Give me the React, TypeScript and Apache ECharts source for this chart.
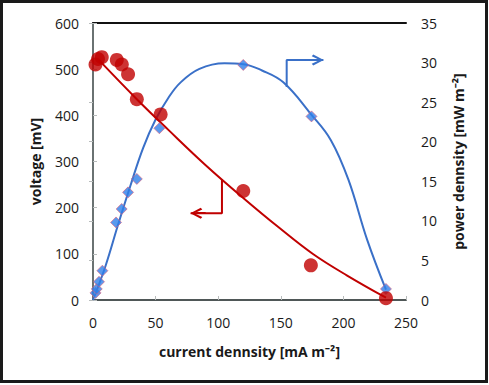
import React, { useEffect, useRef } from "react";
import * as echarts from "echarts";

// measured voltage (current density mA m^-2, voltage mV)
const voltagePoints: [number, number][] = [
  [2, 510], [4, 522], [7, 526], [19, 520], [23, 510], [28, 489],
  [35, 435], [54, 402], [120, 236], [174, 75], [234, 4],
];
// measured power density (current density, mW m^-2)
const powerPoints: [number, number][] = [
  [2, 0.9], [3, 1.4], [4.8, 2.3], [7.5, 3.7], [18.4, 9.8], [22.9, 11.5],
  [28, 13.6], [35, 15.3], [53, 21.7], [120, 29.7], [174.5, 23.2], [234, 1.4],
];
// trend lines
const voltageTrend: [number, number][] = [
  [5, 519], [35, 435], [60, 369], [90, 292], [120, 221], [148, 158], [176, 99], [203, 53], [234, 5],
];
const powerTrend: [number, number][] = [
  [0, 0], [10, 4.3], [20, 9.5], [30, 14.5], [40, 19.2], [50, 22.8], [60, 25.5],
  [70, 27.5], [85, 29.2], [105, 29.9], [120, 29.8], [135, 29], [152, 27.5],
  [174, 23.5], [190, 20.2], [204, 15.2], [219, 7.6], [234, 1.3],
];
// annotation arrows (data coordinates)
const voltageArrow: [number, number][] = [[103, 262], [103, 188], [78, 188]];
const powerArrow: [number, number][] = [[154.7, 26.9], [154.7, 30.33], [184, 30.33]];

const xTicks = { min: 0, max: 250, interval: 50 };
const yLeft = { min: 0, max: 600, interval: 100 };
const yRight = { min: 0, max: 35, interval: 5 };

const RED = "#c00000";
const BLUE = "#3a70c8";
const CHEVRON = "path://M5,0L10,8.2L8.4,9.4L5,3.2L1.6,9.4L0,8.2Z";
const FONT = "Open Sans";

export default function App() {
  const ref = useRef<HTMLDivElement>(null);
  useEffect(() => {
    document.body.style.margin = "0";
    const chart = echarts.init(ref.current!, null, { renderer: "svg" });
    const axisLabel = { color: "#1a1a1a", fontFamily: FONT, fontSize: 14 };
    const nameStyle = { color: "#1a1a1a", fontFamily: FONT, fontSize: 14, fontWeight: "bold" as const };
    const tick = { show: true, inside: true, length: 4, lineStyle: { color: "#b8bcbc", width: 1 } };
    chart.setOption({
      animation: false,
      backgroundColor: "#ffffff",
      graphic: [
        {
          type: "rect",
          shape: { x: 1.5, y: 1.5, width: 485, height: 380 },
          style: { fill: "none", stroke: "#1a1a1a", lineWidth: 3 },
          silent: true,
        },
      ],
      grid: { left: 93, right: 83, top: 23, bottom: 85, containLabel: false },
      xAxis: [
        {
          type: "value",
          ...xTicks,
          position: "bottom",
          name: "current dennsity [mA m⁻²]",
          nameLocation: "middle",
          nameGap: 44,
          nameTextStyle: nameStyle,
          axisLine: { show: true, lineStyle: { color: "#4f5757", width: 2 } },
          axisTick: tick,
          axisLabel: { ...axisLabel, margin: 15 },
          splitLine: { show: false },
        },
        {
          type: "value",
          ...xTicks,
          position: "top",
          axisLine: { show: true, onZero: false, lineStyle: { color: "#111111", width: 2 } },
          axisTick: { show: false },
          axisLabel: { show: false },
          splitLine: { show: false },
        },
      ],
      yAxis: [
        {
          type: "value",
          ...yLeft,
          position: "left",
          name: "voltage [mV]",
          nameLocation: "middle",
          nameGap: 51,
          nameRotate: 90,
          nameTextStyle: nameStyle,
          axisLine: { show: true, lineStyle: { color: "#4f5757", width: 2 } },
          axisTick: tick,
          axisLabel: { ...axisLabel, margin: 14 },
          splitLine: { show: false },
        },
        {
          type: "value",
          ...yRight,
          position: "right",
          name: "power dennsity [mW m⁻²]",
          nameLocation: "middle",
          nameGap: 45,
          nameRotate: 90,
          nameTextStyle: nameStyle,
          axisLine: { show: true, lineStyle: { color: "#6a7272", width: 2 } },
          axisTick: tick,
          axisLabel: { ...axisLabel, margin: 15 },
          splitLine: { show: false },
        },
      ],
      series: [
        {
          type: "line",
          xAxisIndex: 0,
          yAxisIndex: 1,
          data: powerTrend,
          smooth: 0.4,
          showSymbol: false,
          lineStyle: { color: BLUE, width: 2 },
          silent: true,
          z: 2,
        },
        {
          type: "line",
          xAxisIndex: 0,
          yAxisIndex: 0,
          data: voltageTrend,
          smooth: 0.4,
          showSymbol: false,
          lineStyle: { color: RED, width: 2 },
          silent: true,
          z: 2,
        },
        {
          type: "line",
          xAxisIndex: 0,
          yAxisIndex: 0,
          data: voltageArrow,
          showSymbol: false,
          lineStyle: { color: RED, width: 2 },
          silent: true,
          z: 2,
          markLine: {
            silent: true,
            animation: false,
            label: { show: false },
            lineStyle: { color: RED, width: 2, type: "solid" },
            symbol: ["none", CHEVRON],
            symbolSize: [11, 12],
            data: [[{ coord: [90, 188] }, { coord: [82.5, 188] }]],
          },
        },
        {
          type: "line",
          xAxisIndex: 0,
          yAxisIndex: 1,
          data: powerArrow,
          showSymbol: false,
          lineStyle: { color: BLUE, width: 2 },
          silent: true,
          z: 2,
          markLine: {
            silent: true,
            animation: false,
            label: { show: false },
            lineStyle: { color: BLUE, width: 2, type: "solid" },
            symbol: ["none", CHEVRON],
            symbolSize: [11, 12],
            data: [[{ coord: [170, 30.33] }, { coord: [179.5, 30.33] }]],
          },
        },
        {
          type: "scatter",
          xAxisIndex: 0,
          yAxisIndex: 1,
          data: powerPoints,
          symbol: "diamond",
          symbolSize: 11,
          itemStyle: { color: "#2f80e8", borderColor: "#e0607a", borderWidth: 0.8 },
          z: 3,
        },
        {
          type: "scatter",
          xAxisIndex: 0,
          yAxisIndex: 0,
          data: voltagePoints,
          symbol: "circle",
          symbolSize: 14,
          itemStyle: { color: RED },
          z: 4,
        },
      ],
    });
    return () => chart.dispose();
  }, []);
  return <div ref={ref} style={{ width: 489, height: 385 }} />;
}
